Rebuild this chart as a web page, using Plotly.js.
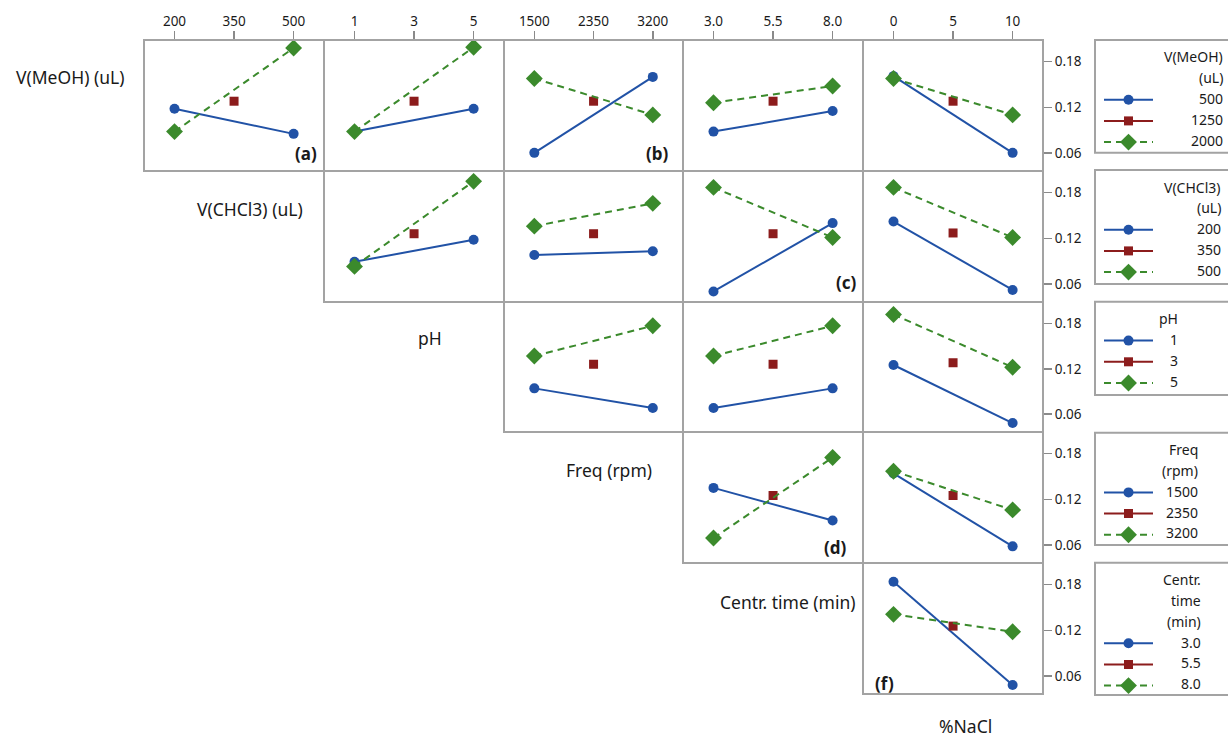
<!DOCTYPE html>
<html><head><meta charset="utf-8">
<script src="https://cdn.plot.ly/plotly-3.0.1.min.js"></script>
<style>html,body{margin:0;padding:0;background:#fff;} #chart{width:1228px;height:737px;}</style>
</head><body><div id="chart"></div>
<script>
// ---- factors ----
const rowFactors = ['V(MeOH) (uL)', 'V(CHCl3) (uL)', 'pH', 'Freq (rpm)', 'Centr. time (min)'];
const lastFactor = '%NaCl';
const legendTitles = [['V(MeOH)', '(uL)'], ['V(CHCl3)', '(uL)'], ['pH'], ['Freq', '(rpm)'], ['Centr.', 'time', '(min)']];
const legendLevels = [['500', '1250', '2000'], ['200', '350', '500'], ['1', '3', '5'], ['1500', '2350', '3200'], ['3.0', '5.5', '8.0']];

// ---- column factor levels (x axes) ----
const levelsCHCl3 = [200, 350, 500];
const levelsPH = [1, 3, 5];
const levelsFreq = [1500, 2350, 3200];
const levelsTime = [3.0, 5.5, 8.0];
const levelsNaCl = [0, 5, 10];
const ticksCHCl3 = ['200', '350', '500'];
const ticksPH = ['1', '3', '5'];
const ticksFreq = ['1500', '2350', '3200'];
const ticksTime = ['3.0', '5.5', '8.0'];
const ticksNaCl = ['0', '5', '10'];
const yTickVals = [0.06, 0.12, 0.18];
const yTickText = ['0.06', '0.12', '0.18'];

// ---- interaction means (row factor level, at low/high of column factor) ----
// Row V(MeOH): columns CHCl3, pH, Freq, Time, NaCl
const lowMeOH = [[0.118, 0.085], [0.088, 0.118], [0.060, 0.160], [0.088, 0.115], [0.161, 0.060]];
const centerMeOH = [0.128, 0.128, 0.128, 0.128, 0.128];
const highMeOH = [[0.088, 0.198], [0.088, 0.199], [0.158, 0.110], [0.126, 0.148], [0.158, 0.110]];
// Row V(CHCl3): columns pH, Freq, Time, NaCl
const lowCHCl3 = [[0.089, 0.118], [0.098, 0.103], [0.050, 0.140], [0.142, 0.052]];
const centerCHCl3 = [0.126, 0.126, 0.126, 0.127];
const highCHCl3 = [[0.083, 0.195], [0.136, 0.166], [0.187, 0.121], [0.187, 0.121]];
// Row pH: columns Freq, Time, NaCl
const lowPH = [[0.094, 0.068], [0.068, 0.094], [0.125, 0.048]];
const centerPH = [0.126, 0.126, 0.128];
const highPH = [[0.137, 0.177], [0.137, 0.177], [0.192, 0.122]];
// Row Freq: columns Time, NaCl
const lowFreq = [[0.135, 0.092], [0.154, 0.058]];
const centerFreq = [0.125, 0.125];
const highFreq = [[0.069, 0.175], [0.157, 0.106]];
// Row Centr. time: column NaCl
const lowTime = [[0.184, 0.048]];
const centerTime = [0.1255];
const highTime = [[0.141, 0.118]];

const panelTags = ['(a)', '(b)', '(c)', '(d)', '(f)'];

// ---- assemble ----
const colLevels = [levelsCHCl3, levelsPH, levelsFreq, levelsTime, levelsNaCl];
const colTicks = [ticksCHCl3, ticksPH, ticksFreq, ticksTime, ticksNaCl];
const rowLow = [lowMeOH, lowCHCl3, lowPH, lowFreq, lowTime];
const rowCenter = [centerMeOH, centerCHCl3, centerPH, centerFreq, centerTime];
const rowHigh = [highMeOH, highCHCl3, highPH, highFreq, highTime];

const W = 1228, H = 737;
const colX = [144, 324, 504, 683, 863, 1043];
const rowY = [40, 171, 302, 432, 563, 694];
const px = v => v / W, py = v => 1 - v / H;
const yRange = [0.0361, 0.2086];
const BLUE = '#2152a6', RED = '#8c1c1c', GREEN = '#3b8a2c';
const FRAME = '#a3a3a3', TXT = '#1a1a1a';
const FONT = 'Noto Sans, Open Sans, sans-serif';

const traces = [];
const layout = {
  width: W, height: H,
  margin: {l: 0, r: 0, t: 0, b: 0, autoexpand: false},
  paper_bgcolor: '#fff', plot_bgcolor: 'rgba(0,0,0,0)',
  font: {family: FONT, size: 13, color: TXT},
  showlegend: true,
  annotations: [], shapes: []
};

let k = 0;
for (let r = 0; r < 5; r++) {
  for (let c = r; c < 5; c++) {
    k++;
    const sfx = k === 1 ? '' : String(k);
    const xa = 'x' + sfx, ya = 'y' + sfx;
    const lev = colLevels[c];
    const span = lev[2] - lev[0];
    layout['xaxis' + sfx] = {
      domain: [px(colX[c]), px(colX[c + 1])],
      range: [lev[0] - 0.256 * span, lev[2] + 0.255 * span],
      anchor: ya, side: r === 0 ? 'top' : 'bottom',
      showline: false, showgrid: false, zeroline: false,
      ticks: r === 0 ? 'outside' : '', ticklen: 8, tickwidth: 1.5, tickcolor: '#8a8a8a',
      showticklabels: r === 0, tickvals: lev, ticktext: colTicks[c],
      tickfont: {size: 13.5, color: TXT}, fixedrange: true
    };
    layout['yaxis' + sfx] = {
      domain: [py(rowY[r + 1]), py(rowY[r])],
      range: yRange, anchor: xa, side: c === 4 ? 'right' : 'left',
      showline: false, showgrid: false, zeroline: false,
      ticks: c === 4 ? 'outside' : '', ticklen: 8, tickwidth: 1.5, tickcolor: '#8a8a8a',
      showticklabels: c === 4, tickvals: yTickVals, ticktext: yTickText,
      tickfont: {size: 13.5, color: TXT}, fixedrange: true
    };
    // panel frame
    layout.shapes.push({
      type: 'rect', xref: 'paper', yref: 'paper',
      x0: px(colX[c]), x1: px(colX[c + 1]), y0: py(rowY[r + 1]), y1: py(rowY[r]),
      line: {color: FRAME, width: 2}, fillcolor: 'rgba(0,0,0,0)', layer: 'above'
    });
    const i = c - r;
    const leg = r === 0 ? 'legend' : 'legend' + (r + 1);
    const first = c === r;
    traces.push({
      x: [lev[0], lev[2]], y: rowLow[r][i], xaxis: xa, yaxis: ya,
      mode: 'lines+markers', name: '', legend: leg, showlegend: first,
      line: {color: BLUE, width: 2}, marker: {symbol: 'circle', size: 10, color: BLUE},
      hoverinfo: 'x+y', cliponaxis: false
    });
    traces.push({
      x: [lev[1]], y: [rowCenter[r][i]], xaxis: xa, yaxis: ya,
      mode: 'lines+markers', name: '', legend: leg, showlegend: first,
      line: {color: RED, width: 2}, marker: {symbol: 'square', size: 9, color: RED},
      hoverinfo: 'x+y', cliponaxis: false
    });
    traces.push({
      x: [lev[0], lev[2]], y: rowHigh[r][i], xaxis: xa, yaxis: ya,
      mode: 'lines+markers', name: '', legend: leg, showlegend: first,
      line: {color: GREEN, width: 2, dash: '7px,5px'}, marker: {symbol: 'diamond', size: 13, color: GREEN},
      hoverinfo: 'x+y', cliponaxis: false
    });
  }
}

// factor labels on the diagonal
const labelPos = [[69.5, 77], [249.5, 209], [429.5, 338], [609, 470], [788, 601.7], [965, 726]];
rowFactors.concat([lastFactor]).forEach((t, j) => {
  layout.annotations.push({
    text: t, xref: 'paper', yref: 'paper', x: px(labelPos[j][0]), y: py(labelPos[j][1]),
    xanchor: 'center', yanchor: 'middle', showarrow: false, borderpad: 0,
    font: {size: 17.5, color: TXT, family: FONT}
  });
});

// panel tags
const tagPos = [[305.5, 153], [657, 154], [846, 283], [835, 547], [884, 683]];
panelTags.forEach((t, j) => {
  layout.annotations.push({
    text: '<b>' + t + '</b>', xref: 'paper', yref: 'paper', x: px(tagPos[j][0]), y: py(tagPos[j][1]),
    xanchor: 'center', yanchor: 'middle', showarrow: false,
    font: {size: 17, color: TXT, family: FONT}
  });
});

// legends
const legTop = [40, 170, 301.7, 432.7, 562.7];
const legBottom = [152.7, 284, 395, 545, 695];
const legRight = [1225, 1223, 1180, 1200, 1203];
const lineStep = 20.8, firstLine = 17;
for (let r = 0; r < 5; r++) {
  const id = r === 0 ? 'legend' : 'legend' + (r + 1);
  const nT = legendTitles[r].length;
  const firstEntry = legTop[r] + firstLine + lineStep * nT;
  layout[id] = {
    x: px(1099), xanchor: 'left', y: py(firstEntry - 14.5), yanchor: 'top',
    bgcolor: 'rgba(0,0,0,0)', borderwidth: 0, itemwidth: 49,
    font: {size: 14, color: TXT, family: FONT}, tracegroupgap: 0,
    itemclick: false, itemdoubleclick: false
  };
  layout.shapes.push({
    type: 'rect', xref: 'paper', yref: 'paper',
    x0: px(1095), x1: px(1240), y0: py(legBottom[r]), y1: py(legTop[r]),
    line: {color: FRAME, width: 2}, fillcolor: 'rgba(0,0,0,0)'
  });
  const lines = legendTitles[r].concat(legendLevels[r]);
  lines.forEach((t, j) => {
    layout.annotations.push({
      text: t, xref: 'paper', yref: 'paper', x: px(legRight[r]), y: py(legTop[r] + firstLine + lineStep * j),
      xanchor: 'right', yanchor: 'middle', showarrow: false,
      font: {size: 14, color: TXT, family: FONT}
    });
  });
}

Plotly.newPlot('chart', traces, layout, {displayModeBar: false, staticPlot: true});
</script>
</body></html>
